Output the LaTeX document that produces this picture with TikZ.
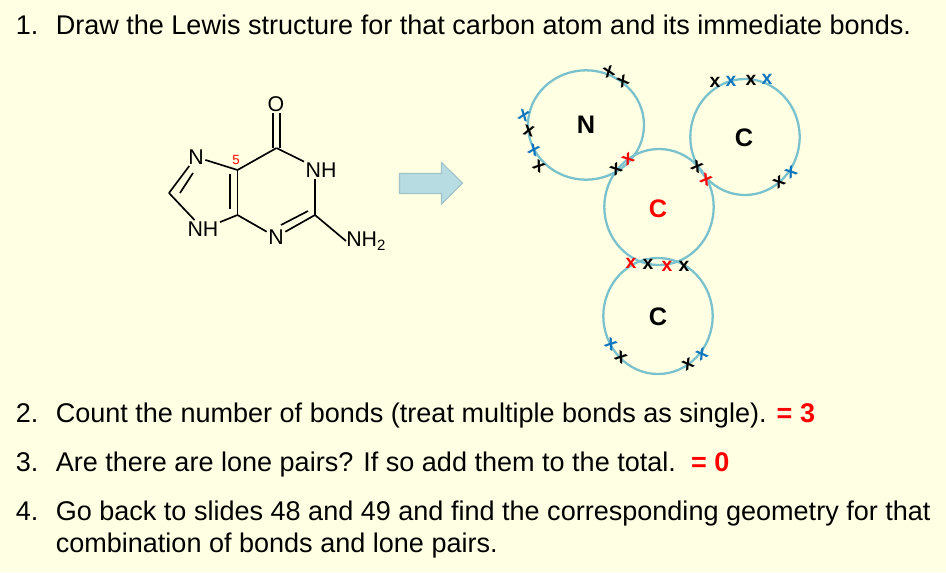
\documentclass[tikz,border=0pt]{standalone}
\usepackage{fontspec}
\setmainfont{Liberation Sans}
\usetikzlibrary{shapes.geometric,calc}
\definecolor{bg}{HTML}{FFFFE3}
\definecolor{ring}{HTML}{79C1CC}
\definecolor{arrowfill}{HTML}{B7DDE2}
\definecolor{arrowline}{HTML}{9FC3C9}
\definecolor{eblue}{HTML}{0F75BC}
\definecolor{ered}{HTML}{FF0000}
\tikzset{
  line/.style={anchor=base west,inner sep=0pt,font=\fontsize{20.28pt}{24pt}\selectfont},
  shell/.style={ellipse,draw=ring,line width=1.7pt,inner sep=0pt},
  shelllabel/.style={inner sep=0pt,font=\fontsize{19pt}{20pt}\selectfont\bfseries},
  atom/.style={inner sep=1pt,font=\fontsize{16pt}{17pt}\selectfont,text=black},
  bond/.style={draw=black,line width=1.25pt},
  elec/.style={inner sep=0pt,font=\fontsize{14.5pt}{15pt}\selectfont\bfseries},
}
\newcommand{\el}[4]{\node[elec,text=#4,rotate=#3] at (#1,#2) {x};}
\begin{document}
\begin{tikzpicture}[x=0.75pt,y=-0.75pt]
\fill[bg] (0,0) rectangle (946,572);
\useasboundingbox (0,0) rectangle (946,572);
% text
\node[line] (n1) at (15.5,34.5) {1.};
\node[line] (t1) at (55.5,34.5) {Draw the Lewis structure for that carbon atom and its immediate bonds.};
\node[line] (n2) at (15.5,422) {2.};
\node[line] (t2) at (55.5,422) {Count the number of bonds (treat multiple bonds as single). \textcolor{ered}{\bfseries = 3}};
\node[line] (n3) at (15.5,471) {3.};
\node[line] (t3) at (55.5,471) {Are there are lone pairs? If so add them to the total.\ \ \textcolor{ered}{\bfseries = 0}};
\node[line] (n4) at (15.5,520) {4.};
\node[line] (t4) at (55.5,520) {Go back to slides 48 and 49 and find the corresponding geometry for that};
\node[line] (t5) at (55.5,552) {combination of bonds and lone pairs.};
% molecule
\node[atom] (O) at (276,104) {O};
\node[atom] (N1) at (321,170) {NH};
\node[atom] (N3) at (276,237) {N};
\node[atom] (N7) at (196,157) {N};
\node[atom] (N9) at (203,229) {NH};
\node[atom,anchor=west,inner sep=0pt] (NH2) at (346,241) {NH\textsubscript{2}};
\coordinate (C6) at (276.5,148);
\coordinate (C5) at (237.5,170);
\coordinate (C4) at (237.5,215);
\coordinate (C2) at (315,215);
\coordinate (C8) at (169,193);
\node[inner sep=0,text=ered,font=\fontsize{10pt}{10pt}\selectfont] (five) at (236,160) {5};
\draw[bond] ([xshift=-2.8pt]C6) -- ([xshift=-2.8pt]C6 |- O.south);
\draw[bond] ([xshift=2.8pt]C6) -- ([xshift=2.8pt]C6 |- O.south);
\draw[bond] (C6) -- (C5);
\draw[bond] (C6) -- (N1);
\draw[bond] (C2) -- (C2 |- N1.south);
\draw[bond] (C2) -- (N3);
\draw[bond] (281,225) -- (308,211);
\draw[bond] (C2) -- (NH2.west);
\draw[bond] (C4) -- (N3);
\draw[bond] (C4) -- (C5);
\draw[bond] (230.3,174) -- (230.3,209);
\draw[bond] (C5) -- (N7);
\draw[bond] (C4) -- (N9);
\draw[bond] (C8) -- (N7);
\draw[bond] (C8) -- (N9);
\draw[bond] (180,193) -- (193,173);
% arrow
\draw[fill=arrowfill,draw=arrowline,line width=0.8pt] (399.5,173.5) -- (441.5,173.5) -- (441.5,162.5) -- (462.5,183) -- (441.5,204) -- (441.5,193.5) -- (399.5,193.5) -- cycle;
% shells
\node[shell,minimum width=87pt,minimum height=82pt] (sN) at (586,125) {};
\node[shell,minimum width=82pt,minimum height=87pt] (sR) at (745,137) {};
\node[shell,minimum width=82pt,minimum height=87pt] (sC) at (659,207) {};
\node[shell,minimum width=82pt,minimum height=87pt] (sB) at (658,316) {};
\node[shelllabel] (lN) at (586,125) {N};
\node[shelllabel] (lR) at (744,138) {C};
\node[shelllabel,text=ered] (lC) at (658,208.5) {C};
\node[shelllabel] (lB) at (658,316.5) {C};
% electrons
\el{609}{72}{20}{black}\el{623}{81}{30}{black}
\el{524}{116}{-20}{eblue}\el{529}{131}{-15}{black}
\el{534}{150}{-25}{eblue}\el{539}{166}{-35}{black}
\el{616}{169}{35}{black}\el{628}{159}{35}{ered}
\el{715}{82}{0}{black}\el{731}{81}{0}{eblue}\el{751}{80}{0}{black}\el{767}{79}{0}{eblue}
\el{697}{167}{-30}{black}\el{706}{180}{-30}{ered}
\el{779}{182}{35}{black}\el{791}{172}{35}{eblue}
\el{631}{263}{0}{ered}\el{648}{264}{0}{black}\el{667}{266}{0}{ered}\el{684}{266}{0}{black}
\el{611}{344}{-35}{eblue}\el{621}{357}{-35}{black}
\el{688}{364}{30}{black}\el{702}{354}{30}{eblue}
\end{tikzpicture}
\end{document}
